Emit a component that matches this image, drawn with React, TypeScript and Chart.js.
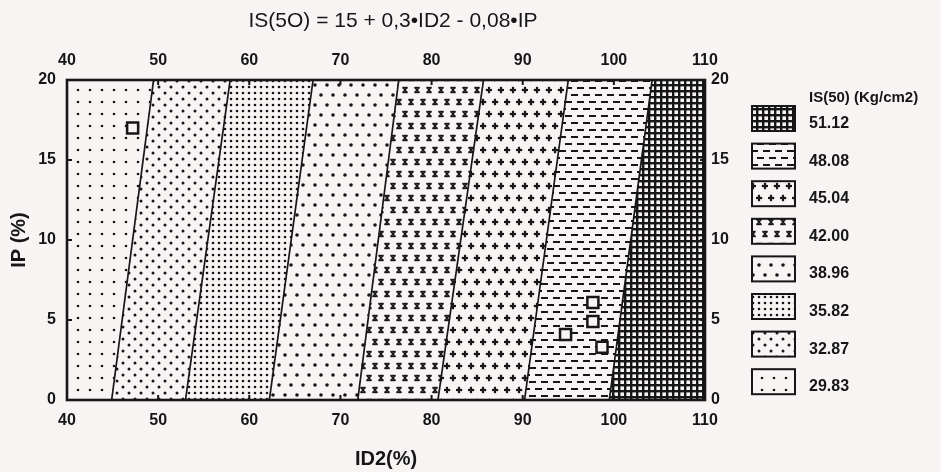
import { useEffect, useRef } from 'react';
import { Chart, registerables } from 'chart.js';

Chart.register(...registerables);

// ---- data ----
const xTicks = [40, 50, 60, 70, 80, 90, 100, 110];
const yTicks = [0, 5, 10, 15, 20];
// band boundary lines: ID2 value at IP = 0 and at IP = 20
const boundaryBottom = [44.9, 53.0, 62.2, 71.9, 80.7, 90.2, 99.5];
const boundaryTop = [49.5, 57.9, 67.0, 76.4, 85.7, 95.0, 104.2];
// IS(50) class value of each band, left to right
const bandValues = ['29.83', '32.87', '35.82', '38.96', '42.00', '45.04', '48.08', '51.12'];
// sample points
const sampleX = [47.2, 94.7, 97.7, 97.7, 98.7];
const sampleY = [17.0, 4.1, 6.1, 4.9, 3.3];

const titleText = 'IS(5O) = 15 + 0,3•ID2 - 0,08•IP';
const legendTitle = 'IS(50) (Kg/cm2)';
const xTitle = 'ID2(%)';
const yTitle = 'IP (%)';

const FONT = "'Liberation Sans', Arial, Helvetica, sans-serif";
const INK = '#161616';
const PAPER = '#f8f4f4';

type G = CanvasRenderingContext2D;
function tile(w: number, h: number, draw: (g: G) => void) {
  const c = document.createElement('canvas');
  c.width = w;
  c.height = h;
  const g = c.getContext('2d') as G;
  g.fillStyle = PAPER;
  g.fillRect(0, 0, w, h);
  g.fillStyle = INK;
  g.strokeStyle = INK;
  draw(g);
  return c;
}
function dot(g: G, x: number, y: number, r: number) {
  g.beginPath();
  g.arc(x, y, r, 0, Math.PI * 2);
  g.fill();
}
function xmark(g: G, x: number, y: number) {
  g.lineWidth = 1.6;
  g.beginPath();
  g.moveTo(x - 2, y - 2.5);
  g.lineTo(x + 2, y + 2.5);
  g.moveTo(x + 2, y - 2.5);
  g.lineTo(x - 2, y + 2.5);
  g.stroke();
  g.fillRect(x - 2.7, y - 3.2, 5.4, 1.5);
  g.fillRect(x - 2.7, y + 1.7, 5.4, 1.5);
}
function plus(g: G, x: number, y: number) {
  g.fillRect(x - 3.2, y - 1.1, 6.4, 2.2);
  g.fillRect(x - 1.1, y - 3.2, 2.2, 6.4);
}
const patternMakers: (() => HTMLCanvasElement)[] = [
  () => tile(12, 12, (g) => dot(g, 6, 6, 1.3)),
  () => tile(12, 12, (g) => { dot(g, 3, 3, 1.5); dot(g, 9, 9, 1.5); }),
  () => tile(6, 6, (g) => dot(g, 3, 3, 1.3)),
  () => tile(12, 20, (g) => { dot(g, 3, 5, 1.8); dot(g, 9, 15, 1.8); }),
  () => tile(12, 24, (g) => { xmark(g, 3, 6); xmark(g, 9, 18); }),
  () => tile(12, 24, (g) => { plus(g, 3, 6); plus(g, 9, 18); }),
  () => tile(12, 14, (g) => { g.fillRect(1, 3, 7, 2); g.fillRect(7, 10, 7, 2); g.fillRect(-5, 10, 7, 2); }),
  () => tile(6, 6, (g) => { g.fillRect(0, 0, 6, 2.4); g.fillRect(0, 0, 2.4, 6); }),
];

export default function App() {
  const ref = useRef<HTMLCanvasElement>(null);
  useEffect(() => {
    document.body.style.margin = '0';
    const canvas = ref.current as HTMLCanvasElement;
    const ctx = canvas.getContext('2d') as G;
    const patterns = patternMakers.map((f) => ctx.createPattern(f(), 'repeat') as CanvasPattern);

    const bandSets = bandValues.map((v, i) => {
      const lb = i === 0 ? xTicks[0] : boundaryBottom[i - 1];
      const lt = i === 0 ? xTicks[0] : boundaryTop[i - 1];
      const rb = i === bandValues.length - 1 ? xTicks[xTicks.length - 1] : boundaryBottom[i];
      const rt = i === bandValues.length - 1 ? xTicks[xTicks.length - 1] : boundaryTop[i];
      const y0 = yTicks[0];
      const y1 = yTicks[yTicks.length - 1];
      return {
        type: 'line' as const,
        label: v,
        data: [
          { x: lb, y: y0 },
          { x: rb, y: y0 },
          { x: rt, y: y1 },
          { x: lt, y: y1 },
          { x: lb, y: y0 },
        ],
        fill: 'shape',
        backgroundColor: patterns[i],
        borderWidth: 0,
        borderColor: 'rgba(0,0,0,0)',
        pointRadius: 0,
        tension: 0,
        order: 3,
      };
    });
    const lineSets = boundaryBottom.map((b, i) => ({
      type: 'line' as const,
      label: 'b' + i,
      data: [
        { x: b, y: yTicks[0] },
        { x: boundaryTop[i], y: yTicks[yTicks.length - 1] },
      ],
      borderColor: INK,
      borderWidth: 1.7,
      pointRadius: 0,
      fill: false,
      order: 2,
    }));
    const pointSet = {
      type: 'scatter' as const,
      label: 'samples',
      data: sampleX.map((x, i) => ({ x, y: sampleY[i] })),
      pointStyle: 'rect',
      pointRadius: 7.8,
      borderWidth: 2.5,
      borderColor: INK,
      backgroundColor: PAPER,
      order: 0,
    };

    const tickFont = { family: FONT, size: 16, weight: 'bold' as const };
    const titleFont = { family: FONT, size: 20, weight: 'bold' as const };
    const noGrid = { display: false, drawTicks: false };
    const xAxisBase = {
      type: 'linear' as const,
      min: xTicks[0],
      max: xTicks[xTicks.length - 1],
      grid: noGrid,
      border: { display: false },
      afterBuildTicks: (s: any) => { s.ticks = xTicks.map((value) => ({ value })); },
    };
    const yAxisBase = {
      type: 'linear' as const,
      min: yTicks[0],
      max: yTicks[yTicks.length - 1],
      grid: noGrid,
      border: { display: false },
      afterBuildTicks: (s: any) => { s.ticks = yTicks.map((value) => ({ value })); },
    };

    const bgPlugin = {
      id: 'paper',
      beforeDraw(c: any) {
        const g = c.ctx as G;
        g.save();
        g.fillStyle = PAPER;
        g.fillRect(0, 0, c.width, c.height);
        g.restore();
      },
    };
    const framePlugin = {
      id: 'frame',
      afterDatasetsDraw(c: any) {
        const g = c.ctx as G;
        const { left, right, top, bottom } = c.chartArea;
        const xs = c.scales.x;
        const ys = c.scales.y;
        g.save();
        g.strokeStyle = INK;
        g.lineWidth = 2.6;
        g.strokeRect(left, top, right - left, bottom - top);
        g.lineWidth = 2;
        g.beginPath();
        xTicks.forEach((v) => {
          const px = xs.getPixelForValue(v);
          g.moveTo(px, bottom); g.lineTo(px, bottom - 5);
          g.moveTo(px, top); g.lineTo(px, top + 5);
        });
        yTicks.forEach((v) => {
          const py = ys.getPixelForValue(v);
          g.moveTo(left, py); g.lineTo(left + 5, py);
          g.moveTo(right, py); g.lineTo(right - 5, py);
        });
        g.stroke();
        g.restore();
      },
      afterDraw(c: any) {
        const g = c.ctx as G;
        const { left, right, top } = c.chartArea;
        g.save();
        g.fillStyle = INK;
        g.textBaseline = 'middle';
        g.textAlign = 'center';
        g.font = `21px ${FONT}`;
        g.fillText(titleText, (left + right) / 2 + 7, 21);
        // legend
        const bx = right + 47;
        const bw = 43;
        const bh = 25;
        g.textAlign = 'left';
        g.font = `bold 15px ${FONT}`;
        g.fillText(legendTitle, bx + 57, top + 18);
        g.font = `bold 16px ${FONT}`;
        for (let k = 0; k < bandValues.length; k++) {
          const i = bandValues.length - 1 - k;
          const by = top + 26 + k * 37.6;
          g.fillStyle = patterns[i];
          g.fillRect(bx, by, bw, bh);
          g.strokeStyle = INK;
          g.lineWidth = 2;
          g.strokeRect(bx, by, bw, bh);
          g.fillStyle = INK;
          g.fillText(bandValues[i], bx + 57, by + bh / 2 + 5);
        }
        g.restore();
      },
    };

    const chart = new Chart(canvas, {
      type: 'line',
      data: { datasets: [...bandSets, ...lineSets, pointSet] as any },
      options: {
        animation: false,
        responsive: true,
        maintainAspectRatio: false,
        layout: { padding: 0 },
        plugins: {
          legend: { display: false },
          tooltip: { enabled: false },
          title: { display: false },
        },
        scales: {
          x: {
            ...xAxisBase,
            position: 'bottom',
            ticks: { font: tickFont, color: INK, padding: 11, maxRotation: 0 },
            title: { display: true, text: xTitle, font: titleFont, color: INK, padding: { top: 0, bottom: 1 } },
            afterFit: (s: any) => { s.height = 72; },
          },
          x2: {
            ...xAxisBase,
            position: 'top',
            ticks: { font: tickFont, color: INK, padding: 10, maxRotation: 0 },
            afterFit: (s: any) => { s.height = 80; },
          },
          y: {
            ...yAxisBase,
            position: 'left',
            ticks: { font: tickFont, color: INK, padding: 11 },
            title: { display: true, text: yTitle, font: titleFont, color: INK, padding: { top: 7, bottom: 0 } },
            afterFit: (s: any) => { s.width = 67; },
          },
          y2: {
            ...yAxisBase,
            position: 'right',
            ticks: { font: tickFont, color: INK, padding: 6 },
            afterFit: (s: any) => { s.width = 236; },
          },
        },
      } as any,
      plugins: [bgPlugin, framePlugin],
    });
    return () => chart.destroy();
  }, []);

  return (
    <div style={{ width: 941, height: 472, position: 'relative' }}>
      <canvas ref={ref} />
    </div>
  );
}
